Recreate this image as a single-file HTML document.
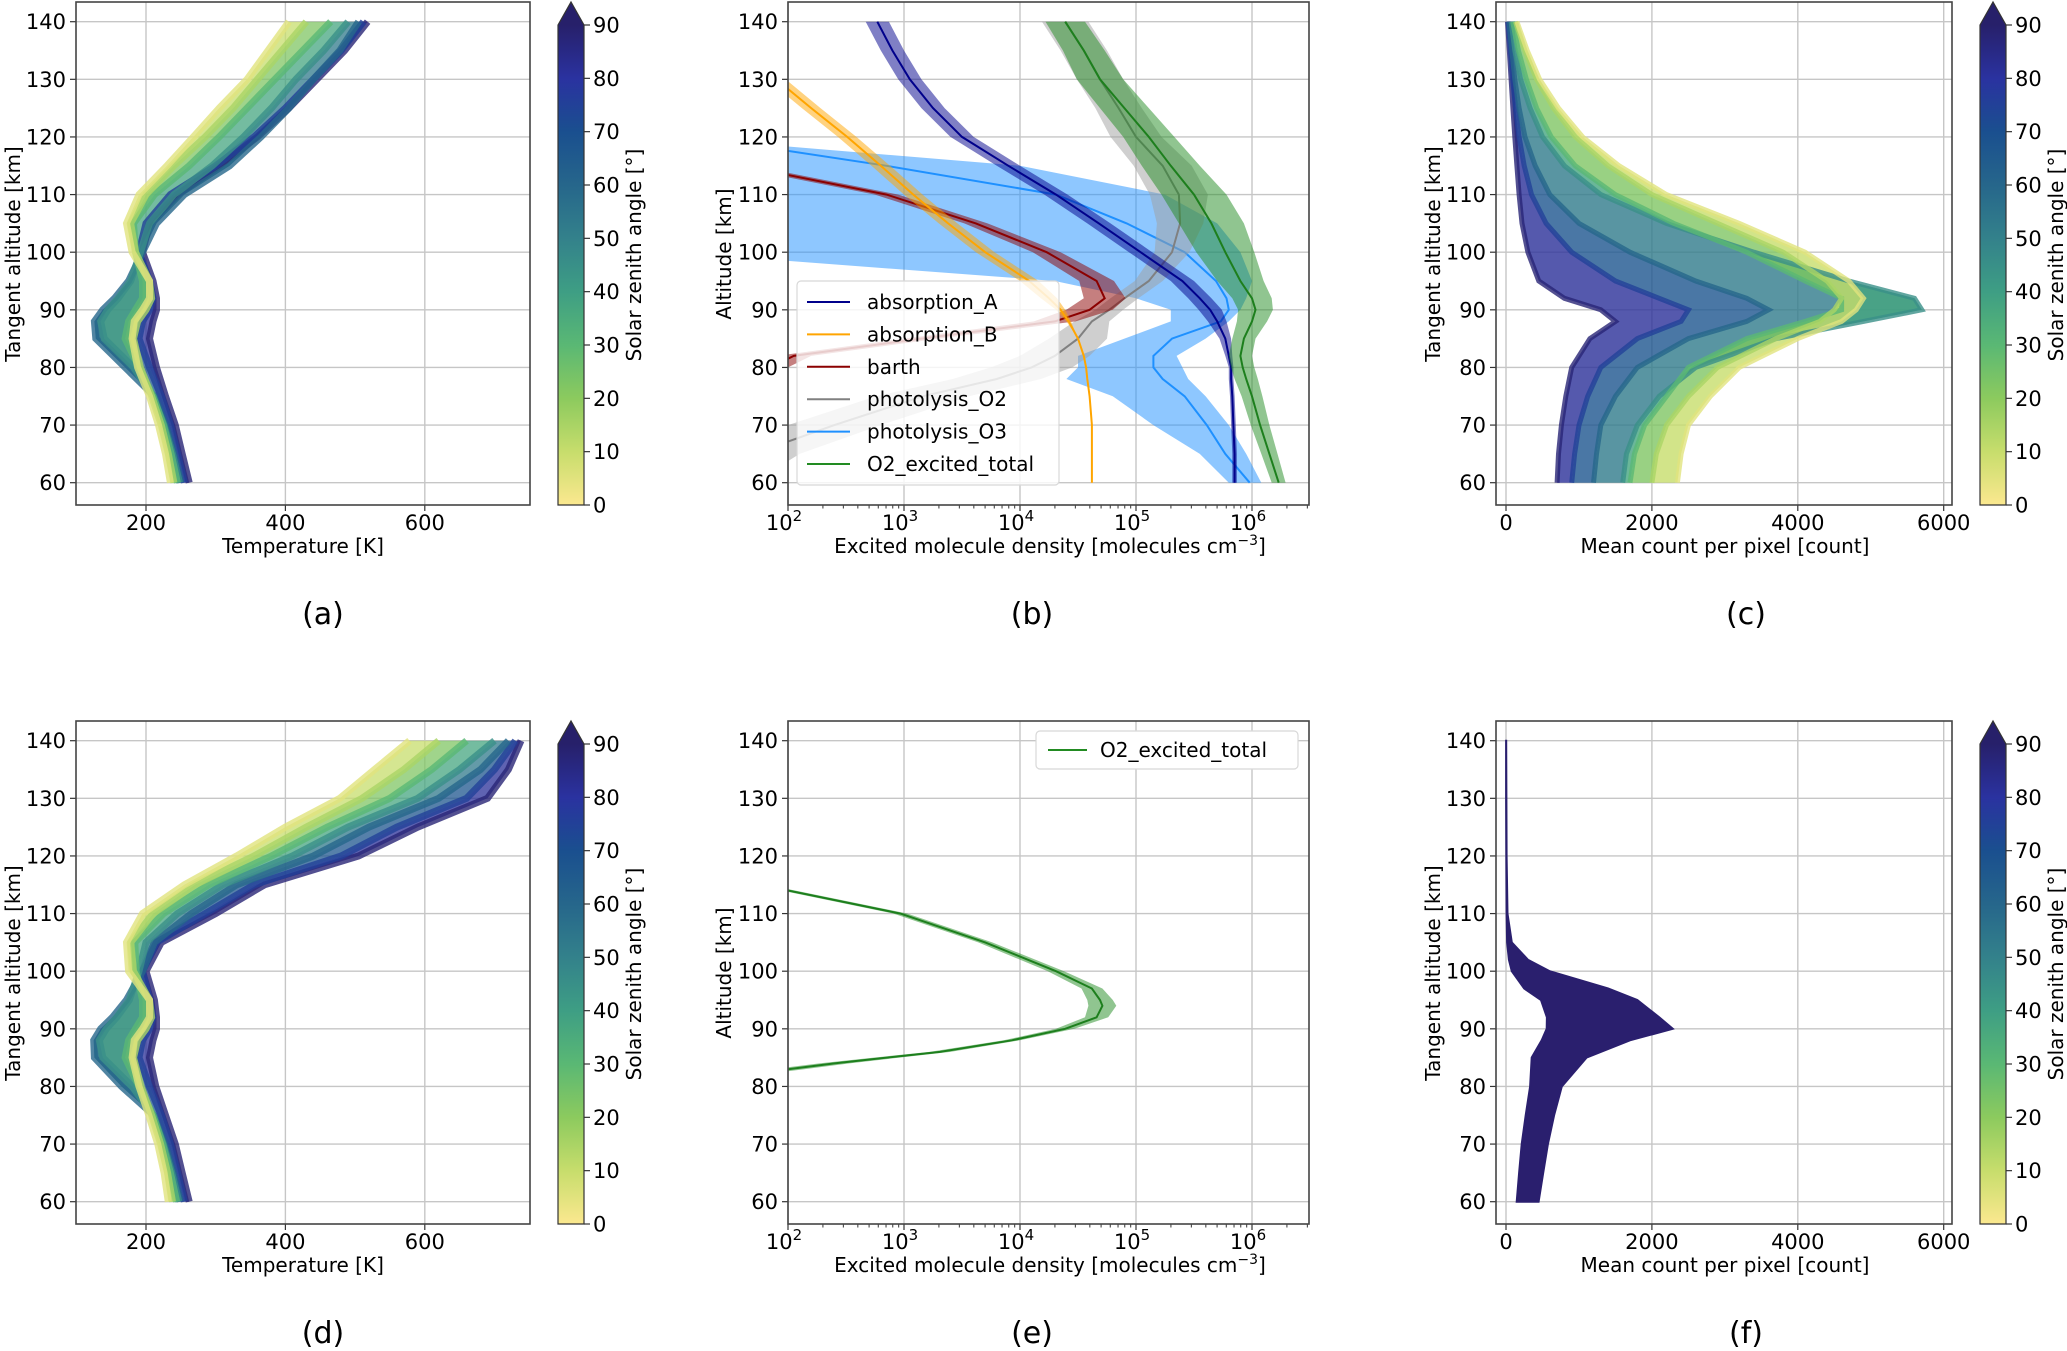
<!DOCTYPE html>
<html><head><meta charset="utf-8"><title>Atmospheric profiles</title>
<style>
html,body{margin:0;padding:0;background:#fff;}
svg{display:block;font-family:"DejaVu Sans","Liberation Sans",sans-serif;}
</style></head>
<body>
<svg id="fig" width="2067" height="1351" viewBox="0 0 2067 1351" xmlns="http://www.w3.org/2000/svg">
<defs>
<linearGradient id="cmapGrad" x1="0" y1="1" x2="0" y2="0">
<stop offset="0" stop-color="#fbe88f"/><stop offset="0.111" stop-color="#c7dd6c"/><stop offset="0.222" stop-color="#8cca5e"/>
<stop offset="0.333" stop-color="#5ab874"/><stop offset="0.444" stop-color="#3e9e84"/><stop offset="0.556" stop-color="#33818b"/>
<stop offset="0.667" stop-color="#26668b"/><stop offset="0.778" stop-color="#1a4f8f"/><stop offset="0.889" stop-color="#2a32a0"/>
<stop offset="1" stop-color="#27206a"/></linearGradient>
</defs>
</svg>
<script>
// ---------- data ----------
const ALT = [60,65,70,75,80,85,88,90,92,95,100,105,110,115,120,125,130,135,140];
const tempSza = [5,15,30,45,60,75,88];
const tempA_sza5  = [235,228,218,205,188,180,183,195,205,205,180,172,190,230,268,305,345,375,405];
const tempA_sza15 = [240,232,222,208,192,182,188,200,208,205,185,178,200,240,285,325,360,395,430];
const tempA_sza30 = [245,236,225,210,190,170,175,185,195,195,185,182,212,262,305,345,385,425,465];
const tempA_sza45 = [248,238,226,210,182,140,135,145,160,178,192,205,240,295,340,380,415,455,490];
const tempA_sza60 = [250,240,228,212,170,128,126,138,155,175,195,215,255,320,365,405,440,478,505];
const tempA_sza75 = [255,245,235,222,205,190,195,205,210,205,190,200,235,300,355,400,440,480,512];
const tempA_sza88 = [262,252,242,228,215,205,210,215,215,210,195,205,245,305,360,405,445,485,518];

const tempD_sza5  = [232,226,217,204,190,180,183,195,205,205,175,172,195,255,330,400,478,528,578];
const tempD_sza15 = [238,231,221,208,193,182,188,200,208,205,182,178,210,270,355,430,510,570,620];
const tempD_sza30 = [244,235,224,210,190,170,175,185,195,195,186,184,225,290,380,460,550,610,660];
const tempD_sza45 = [247,237,225,210,180,138,133,143,158,176,190,200,245,310,410,490,590,650,700];
const tempD_sza60 = [249,239,227,211,165,126,125,135,152,172,195,212,265,330,440,520,620,680,720];
const tempD_sza75 = [255,245,235,222,205,190,195,205,210,205,195,215,285,355,480,560,660,700,730];
const tempD_sza88 = [262,252,242,228,214,205,210,215,215,212,200,222,300,370,505,590,690,720,738];

const countSza = [88,75,60,45,30,15,5];
const countC_sza88 = [700,720,760,820,900,1150,1500,1300,800,450,300,220,180,150,120,95,70,45,20];
const countC_sza75 = [900,940,1000,1120,1300,1800,2400,2500,2100,1500,900,550,350,250,180,130,90,60,30];
const countC_sza60 = [1200,1240,1300,1500,1800,2500,3300,3600,3300,2600,1700,1000,600,400,260,180,120,80,40];
const countC_sza45 = [1600,1650,1800,2100,2600,3700,4900,5700,5600,4700,3400,2200,1300,800,500,330,200,120,70];
const countC_sza30 = [1700,1760,1900,2200,2500,3300,4100,4600,4600,4100,3300,2300,1500,950,620,420,280,170,90];
const countC_sza15 = [2000,2060,2200,2500,2900,3700,4300,4500,4600,4400,3800,2900,2000,1400,950,650,420,260,130];
const countC_sza5  = [2350,2400,2500,2800,3200,4000,4600,4800,4900,4700,4100,3200,2200,1550,1050,720,460,290,150];

const fAlt   = [60,65,70,75,80,85,88,90,92,95,97,100,102,105,110,120,130,140];
const fLeft  = [146,180,215,270,330,352,490,558,560,480,250,80,40,15,8,4,2,1];
const fRight = [447,510,575,660,765,1105,1700,2287,2100,1800,1400,600,300,80,20,8,5,3];

const bAlt = [60,65,70,75,78,80,82,85,88,90,92,95,100,105,110,115,120,125,130,135,140];
const absA   = [5.85,5.85,5.84,5.83,5.82,5.82,5.80,5.77,5.70,5.64,5.55,5.40,5.04,4.68,4.31,3.90,3.50,3.25,3.05,2.90,2.77];
const absA_s = [0.02,0.02,0.02,0.02,0.02,0.02,0.03,0.05,0.08,0.10,0.10,0.10,0.10,0.10,0.10,0.10,0.10,0.10,0.10,0.10,0.10];
const absB   = [4.62,4.62,4.62,4.60,4.58,4.57,4.55,4.50,4.42,4.35,4.25,4.08,3.70,3.38,3.08,2.80,2.51,2.20,1.90,1.60,1.30];
const absB_s = [0,0,0,0,0,0,0,0,0.02,0.04,0.07,0.08,0.08,0.08,0.08,0.08,0.08,0.08,0.08,0.08,0.08];
const barth  = [0.5,0.8,1.2,1.5,1.7,1.85,2.05,3.15,4.30,4.60,4.73,4.66,4.23,3.62,2.85,1.6,1.0,0.8,0.6,0.5,0.5];
const barth_s= [0.15,0.15,0.15,0.15,0.15,0.15,0.15,0.15,0.18,0.2,0.18,0.15,0.12,0.1,0.1,0.1,0.1,0.1,0.1,0.1,0.1];
const photO2   = [1.3,1.7,2.4,3.16,3.8,4.1,4.3,4.5,4.62,4.77,4.9,5.11,5.31,5.38,5.37,5.23,5.00,4.85,4.69,4.55,4.39];
const photO2_s = [0.4,0.4,0.4,0.4,0.38,0.35,0.3,0.25,0.15,0.12,0.12,0.12,0.15,0.2,0.25,0.25,0.22,0.2,0.2,0.2,0.2];
const photO3    = [5.98,5.77,5.61,5.42,5.23,5.15,5.15,5.31,5.73,5.80,5.78,5.69,5.42,4.92,4.31,2.85,1.2,1.0,1.0,1.0,1.0];
const photO3_lo = [5.80,5.55,5.15,4.80,4.40,4.50,4.50,4.90,5.30,5.30,5.00,4.30,1.0,1.0,1.0,1.0,1.0,1.0,1.0,1.0,1.0];
const photO3_hi = [6.08,5.95,5.80,5.60,5.45,5.40,5.35,5.60,5.80,5.90,5.95,6.00,5.90,5.70,5.25,4.00,1.0,1.0,1.0,1.0,1.0];
const o2tot   = [6.23,6.15,6.07,6.00,5.95,5.92,5.90,5.93,6.00,6.03,6.00,5.90,5.77,5.65,5.50,5.30,5.11,4.90,4.69,4.55,4.39];
const o2tot_s = [0.06,0.07,0.08,0.09,0.1,0.1,0.1,0.1,0.13,0.15,0.17,0.2,0.25,0.28,0.28,0.25,0.22,0.21,0.2,0.18,0.17];

const eAlt = [82,83,84,85,86,88,90,92,94,95,97,100,105,110,114,116];
const eO2  = [1.6,2.0,2.4,2.85,3.31,3.93,4.39,4.66,4.71,4.69,4.62,4.31,3.70,2.97,2.0,1.5];
const eO2_s= [0.14,0.14,0.13,0.11,0.09,0.07,0.08,0.1,0.12,0.11,0.09,0.07,0.06,0.06,0.06,0.06];

const altTicks = [60,70,80,90,100,110,120,130,140];
const tempTicks = [200,400,600];
const countTicks = [0,2000,4000,6000];
const logTicks = [2,3,4,5,6];
const szaTicks = [0,10,20,30,40,50,60,70,80,90];

// ---------- helpers ----------
const NS = "http://www.w3.org/2000/svg";
const svg = document.getElementById('fig');
function mk(tag, parent){ const e=document.createElementNS(NS,tag); (parent||svg).appendChild(e); return e; }
function setA(e, o){ for(const k in o) e.setAttribute(k, o[k]); return e; }
const ROW = [0, 719];
function yAlt(a, r){ return 482.7 - (a-60)*5.7625 + ROW[r]; }
const FT = 2, FB = 505;
function colorFor(s){
  const st=[[0,'#fbe88f'],[10,'#c7dd6c'],[20,'#8cca5e'],[30,'#5ab874'],[40,'#3e9e84'],[50,'#33818b'],[60,'#26668b'],[70,'#1a4f8f'],[80,'#2a32a0'],[90,'#27206a']];
  for(let i=0;i<st.length-1;i++){ if(s<=st[i+1][0]){ const t=(s-st[i][0])/10; const a=st[i][1],b=st[i+1][1];
    const c=[1,3,5].map(j=>Math.round(parseInt(a.substr(j,2),16)*(1-t)+parseInt(b.substr(j,2),16)*t));
    return 'rgb('+c.join(',')+')'; } }
  return '#27206a';
}
function text(parent, x, y, str, size, anchor, rot){
  const t=mk('text',parent); setA(t,{x:x,y:y,'font-size':size,'text-anchor':anchor||'middle',fill:'#000'});
  if(rot) t.setAttribute('transform','rotate(-90 '+x+' '+y+')');
  t.textContent=str; return t;
}
function frame(x0,x1,r,name){
  const g=mk('g'); 
  
  const cp=mk('clipPath', svg.querySelector('defs')); cp.setAttribute('id','clip-'+name);
  setA(mk('rect',cp),{x:x0,y:FT+ROW[r],width:x1-x0,height:FB-FT});
  return g;
}
function gridY(g,x0,x1,r){
  altTicks.forEach(a=>{ const y=yAlt(a,r);
    const l=mk('line',g); setA(l,{x1:x0,x2:x1,y1:y,y2:y,stroke:'#c6c6c6','stroke-width':1.4});
    
    
    setA(mk('line',g),{x1:x0-6,x2:x0,y1:y,y2:y,stroke:'#333','stroke-width':1.2});
    const t=text(g,x0-10,y+7.5,String(a),21,'end');
    
    
  });
}
function gridX(g,xs,labels,r){
  xs.forEach((x,i)=>{
    const l=mk('line',g); setA(l,{x1:x,x2:x,y1:FT+ROW[r],y2:FB+ROW[r],stroke:'#c6c6c6','stroke-width':1.4});
    
    
    setA(mk('line',g),{x1:x,x2:x,y1:FB+ROW[r],y2:FB+ROW[r]+6,stroke:'#333','stroke-width':1.2});
    if(labels){ const t=text(g,x,530+ROW[r],labels[i],21,'middle');
      
       }
  });
}
function border(g,x0,x1,r){
  setA(mk('rect',g),{x:x0,y:FT+ROW[r],width:x1-x0,height:FB-FT,fill:'none',stroke:'#444','stroke-width':1.6});
}
function pathFrom(xs, ys){ return xs.map((x,i)=>(i?'L':'M')+x.toFixed(1)+','+ys[i].toFixed(1)).join(''); }
function bandPath(xa, xb, ys){
  let d=pathFrom(xa,ys); for(let i=xb.length-1;i>=0;i--) d+='L'+xb[i].toFixed(1)+','+ys[i].toFixed(1); return d+'Z';
}
function colorbar(x0,r,name){
  const g=mk('g'); 
  
  const top=25+ROW[r], bot=505+ROW[r], w=26;
  setA(mk('rect',g),{x:x0,y:top,width:w,height:bot-top,fill:'url(#cmapGrad)'});
  const arr=mk('path',g); setA(arr,{d:'M'+x0+','+top+'L'+(x0+w/2)+','+(2+ROW[r])+'L'+(x0+w)+','+top+'Z',fill:'#27206a'});
  
  
  setA(mk('path',g),{d:'M'+x0+','+bot+'L'+x0+','+top+'L'+(x0+w/2)+','+(2+ROW[r])+'L'+(x0+w)+','+top+'L'+(x0+w)+','+bot+'Z',fill:'none',stroke:'#333','stroke-width':1.2});
  szaTicks.forEach(s=>{ const y=bot-(s/90)*(bot-top);
    setA(mk('line',g),{x1:x0+w,x2:x0+w+6,y1:y,y2:y,stroke:'#333','stroke-width':1.2});
    const t=text(g,x0+w+9,y+7.5,String(s),21,'start');
    
    
  });
  const lb=text(g,x0+w+57,(top+bot)/2-10,'Solar zenith angle [°]',20,'middle',true);
  
  
}
function panelLabel(x,r,s){
  const t=text(svg,x,624+ROW[r],s,30,'middle');
  
  
}

// ---------- temperature panels (a, d) ----------
function tempPanel(r, profiles, name){
  const x0=76,x1=530; const xT=T=>146+(T-200)*0.697;
  const g=frame(x0,x1,r,name);
  gridX(g,tempTicks.map(xT),tempTicks.map(String),r);
  gridY(g,x0,x1,r);
  const dg=mk('g',g); dg.setAttribute('clip-path','url(#clip-'+name+')');
  const ys=ALT.map(a=>yAlt(a,r));
  const order=[6,5,4,3,2,1,0];
  for(let k=0;k<order.length-1;k++){
    const i=order[k], j=order[k+1];
    const p=mk('path',dg); setA(p,{d:bandPath(profiles[i].map(xT),profiles[j].map(xT),ys),fill:colorFor((tempSza[i]+tempSza[j])/2),'fill-opacity':0.75});
    
    
  }
  order.forEach(i=>{ const p=mk('path',dg); setA(p,{d:pathFrom(profiles[i].map(xT),ys),fill:'none',stroke:colorFor(tempSza[i]),'stroke-width':7,'stroke-opacity':0.8});
    
     });
  border(g,x0,x1,r);
  const xl=text(g,303,553+ROW[r],'Temperature [K]',20);
  
  
  const yl=text(g,20,254+ROW[r],'Tangent altitude [km]',20,'middle',true);
  
  
}
tempPanel(0,[tempA_sza5,tempA_sza15,tempA_sza30,tempA_sza45,tempA_sza60,tempA_sza75,tempA_sza88],'panel-a-temperature');
tempPanel(1,[tempD_sza5,tempD_sza15,tempD_sza30,tempD_sza45,tempD_sza60,tempD_sza75,tempD_sza88],'panel-d-temperature');
colorbar(558,0,'colorbar-a'); colorbar(558,1,'colorbar-d');

// ---------- density panels (b, e) ----------
const xb=l=>788+(l-2)*116;
function densityAxes(r,name){
  const x0=788,x1=1309; const g=frame(x0,x1,r,name);
  gridX(g,logTicks.map(xb),null,r);
  logTicks.forEach(l=>{ const t=mk('text',g); setA(t,{x:xb(l)-4,y:530+ROW[r],'font-size':21,'text-anchor':'middle'});
    
    
    const a=mk('tspan',t); a.textContent='10';
    const b=mk('tspan',t); setA(b,{dy:-9,'font-size':15}); b.textContent=String(l); });
  for(let d=2;d<7;d++) for(let m=2;m<10;m++){ const x=xb(d+Math.log10(m)); if(x>x1) continue;
    setA(mk('line',g),{x1:x,x2:x,y1:FB+ROW[r],y2:FB+ROW[r]+3.5,stroke:'#333','stroke-width':1}); }
  gridY(g,x0,x1,r);
  const xl=text(g,1050,553+ROW[r],'Excited molecule density [molecules cm',20);
  const sup=mk('tspan',xl); setA(sup,{dy:-8,'font-size':14}); sup.textContent='−3';
  const cl=mk('tspan',xl); setA(cl,{dy:8}); cl.textContent=']';
  
  
  const yl=text(g,731,254+ROW[r],'Altitude [km]',20,'middle',true);
  
  
  const dg=mk('g',g); dg.setAttribute('clip-path','url(#clip-'+name+')');
  return {g:g,dg:dg,x0:x0,x1:x1};
}
function series(dg, alts, r, c, lo, hi, color, bandColor, name){
  const ys=alts.map(a=>yAlt(a,r));
  const b=mk('path',dg); setA(b,{d:bandPath(lo.map(xb),hi.map(xb),ys),fill:bandColor,'fill-opacity':0.5});
  
  
  const l=mk('path',dg); setA(l,{d:pathFrom(c.map(xb),ys),fill:'none',stroke:color,'stroke-width':2});
  
  
}
const sub=(a,s)=>a.map((v,i)=>v-s[i]), add=(a,s)=>a.map((v,i)=>v+s[i]);
const B=densityAxes(0,'panel-b-density');
series(B.dg,bAlt,0,photO3,photO3_lo,photO3_hi,'#1e90ff','#1e90ff','photolysis-o3');
series(B.dg,bAlt,0,photO2,sub(photO2,photO2_s),add(photO2,photO2_s),'#808080','#a0a0a0','photolysis-o2');
series(B.dg,bAlt,0,barth,sub(barth,barth_s),add(barth,barth_s),'#8b0000','#8b0000','barth');
series(B.dg,bAlt,0,absB,sub(absB,absB_s),add(absB,absB_s),'#ffa500','#ffa500','absorption-b');
series(B.dg,bAlt,0,absA,sub(absA,absA_s),add(absA,absA_s),'#00008b','#00008b','absorption-a');
series(B.dg,bAlt,0,o2tot,sub(o2tot,o2tot_s),add(o2tot,o2tot_s),'#1d7f1d','#228b22','o2-excited-total');
border(B.g,B.x0,B.x1,0);
const legNames=['absorption_A','absorption_B','barth','photolysis_O2','photolysis_O3','O2_excited_total'];
const legColors=['#00008b','#ffa500','#8b0000','#808080','#1e90ff','#228b22'];
(function(){
  const lg=mk('g',B.g); 
  
  setA(mk('rect',lg),{x:797,y:281,width:262,height:204,rx:4,fill:'#fff','fill-opacity':0.8,stroke:'#d8d8d8','stroke-width':1.2});
  legNames.forEach((n,i)=>{ const y=302+i*32.4;
    const e=mk('g',lg); 
    
    setA(mk('line',e),{x1:807,x2:850,y1:y,y2:y,stroke:legColors[i],'stroke-width':2});
    text(e,867,y+7,n,20,'start'); });
})();
const E=densityAxes(1,'panel-e-density');
series(E.dg,eAlt,1,eO2,sub(eO2,eO2_s),add(eO2,eO2_s),'#1d7f1d','#228b22','o2-excited-total');
border(E.g,E.x0,E.x1,1);
(function(){
  const lg=mk('g',E.g); 
  
  setA(mk('rect',lg),{x:1036,y:731,width:262,height:38,rx:4,fill:'#fff',stroke:'#d8d8d8','stroke-width':1.2});
  const e=mk('g',lg); 
  
  setA(mk('line',e),{x1:1048,x2:1087,y1:750,y2:750,stroke:'#228b22','stroke-width':2});
  text(e,1100,757,'O2_excited_total',20,'start');
})();

// ---------- count panels (c, f) ----------
const xc=v=>1506+v*0.07295;
function countAxes(r,name){
  const x0=1496,x1=1952; const g=frame(x0,x1,r,name);
  gridX(g,countTicks.map(xc),countTicks.map(String),r);
  gridY(g,x0,x1,r);
  const xl=text(g,1725,553+ROW[r],'Mean count per pixel [count]',20);
  
  
  const yl=text(g,1440,254+ROW[r],'Tangent altitude [km]',20,'middle',true);
  
  
  const dg=mk('g',g); dg.setAttribute('clip-path','url(#clip-'+name+')');
  return {g:g,dg:dg,x0:x0,x1:x1};
}
const C=countAxes(0,'panel-c-counts');
(function(){
  const prof=[countC_sza88,countC_sza75,countC_sza60,countC_sza45,countC_sza30,countC_sza15,countC_sza5];
  const ys=ALT.map(a=>yAlt(a,0));
  for(let k=0;k<prof.length-1;k++){
    const p=mk('path',C.dg); setA(p,{d:bandPath(prof[k].map(xc),prof[k+1].map(xc),ys),fill:colorFor((countSza[k]+countSza[k+1])/2),'fill-opacity':0.8});
    
    
  }
  prof.forEach((pr,i)=>{ const p=mk('path',C.dg); setA(p,{d:pathFrom(pr.map(xc),ys),fill:'none',stroke:colorFor(countSza[i]),'stroke-width':5,'stroke-opacity':0.8});
    
     });
})();
border(C.g,C.x0,C.x1,0);
const F=countAxes(1,'panel-f-counts');
(function(){
  const ys=fAlt.map(a=>yAlt(a,1));
  const p=mk('path',F.dg); setA(p,{d:bandPath(fLeft.map(xc),fRight.map(xc),ys),fill:'#2a1f6e',stroke:'#2a1f6e','stroke-width':2});
  
  
})();
border(F.g,F.x0,F.x1,1);
colorbar(1980,0,'colorbar-c'); colorbar(1980,1,'colorbar-f');

panelLabel(323,0,'(a)'); panelLabel(1032,0,'(b)'); panelLabel(1746,0,'(c)');
panelLabel(323,1,'(d)'); panelLabel(1032,1,'(e)'); panelLabel(1746,1,'(f)');
</script>
</body></html>
